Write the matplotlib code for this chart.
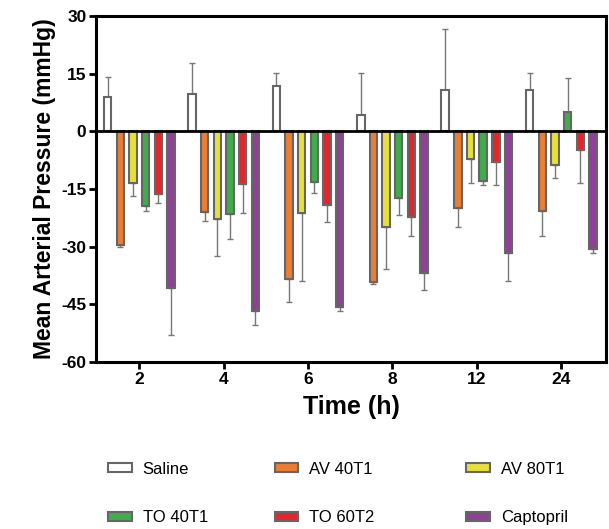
import matplotlib.pyplot as plt
import numpy as np
from matplotlib.patches import Patch

plt.rcParams['font.family'] = ['Liberation Sans', 'DejaVu Sans']
plt.rcParams['axes.unicode_minus'] = False

times = ['2', '4', '6', '8', '12', '24']
groups = ['Saline', 'AV 40T1', 'AV 80T1', 'TO 40T1', 'TO 60T2', 'Captopril']
colors = ['#FFFFFF', '#EC7D31', '#E8E03A', '#3FAE4A', '#E3262B', '#8E4196']

# mean change per group, one value per time point
saline = [9.0, 9.7, 11.7, 4.2, 10.7, 10.7]
av40 = [-29.6, -21.1, -38.5, -39.3, -20.0, -20.8]
av80 = [-13.4, -22.9, -21.4, -24.8, -7.3, -8.9]
to40 = [-19.4, -21.6, -13.2, -17.4, -13.0, 5.0]
to60 = [-16.4, -13.7, -19.2, -22.4, -8.1, -5.0]
capto = [-40.9, -46.7, -45.8, -36.9, -31.7, -30.6]

# error (one sided, away from zero)
saline_err = [5.2, 8.1, 3.4, 11.0, 15.8, 4.5]
av40_err = [0.4, 2.2, 6.0, 0.5, 4.9, 6.4]
av80_err = [3.4, 9.5, 17.7, 11.0, 6.1, 3.2]
to40_err = [1.3, 6.5, 2.8, 4.3, 1.0, 8.9]
to60_err = [2.3, 7.7, 4.3, 4.8, 5.9, 8.5]
capto_err = [12.0, 3.7, 1.1, 4.5, 7.2, 1.1]

means = [saline, av40, av80, to40, to60, capto]
errs = [saline_err, av40_err, av80_err, to40_err, to60_err, capto_err]

fig = plt.figure(figsize=(6.09, 5.29), dpi=100)
ax = fig.add_axes([0.158, 0.316, 0.837, 0.654])

x = np.arange(len(times))
step = 0.15
width = 0.088
for i, (m, e) in enumerate(zip(means, errs)):
    m = np.array(m)
    e = np.array(e)
    lower = np.where(m < 0, e, 0)
    upper = np.where(m >= 0, e, 0)
    pos = x + (i - 2.5) * step
    ax.bar(pos, m, width, color=colors[i], edgecolor='#666666', linewidth=1.5, zorder=2)
    ax.errorbar(pos, m, yerr=[lower, upper], fmt='none', ecolor='#777777',
                elinewidth=1, capsize=2, capthick=1, zorder=1)

ax.axhline(0, color='black', linewidth=2, zorder=3)
ax.set_xlim(-0.51, 5.53)
ax.set_ylim(-60, 30)
ax.set_yticks(np.arange(-60, 31, 15))
ax.set_xticks(x)
ax.set_xticklabels(times)
for s in ax.spines.values():
    s.set_linewidth(2.2)
ax.tick_params(width=2, length=5, labelsize=12.5, pad=2)
for lbl in ax.get_xticklabels() + ax.get_yticklabels():
    lbl.set_fontweight('bold')
ax.set_ylabel('Mean Arterial Pressure (mmHg)', fontsize=16.5, fontweight='bold', labelpad=4)
ax.set_xlabel('Time (h)', fontsize=18, fontweight='bold', labelpad=6)

handles = [Patch(facecolor=c, edgecolor='#666666', linewidth=1.5) for c in colors]
col_x = [0.178, 0.451, 0.766]
for k in range(3):
    leg = fig.legend([handles[k], handles[k + 3]], [groups[k], groups[k + 3]],
                     loc='upper left', bbox_to_anchor=(col_x[k], 0.127),
                     frameon=False, fontsize=12, handlelength=1.4,
                     handleheight=0.45, handletextpad=0.65, labelspacing=2.0,
                     borderpad=0, borderaxespad=0)

fig.savefig('out.png', dpi=100)
